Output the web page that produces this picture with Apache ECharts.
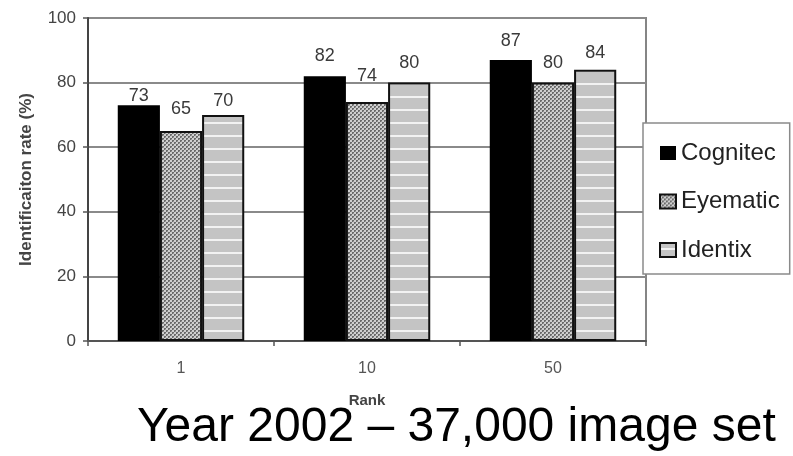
<!DOCTYPE html>
<html>
<head>
<meta charset="utf-8">
<script src="https://cdn.jsdelivr.net/npm/echarts@6/dist/echarts.min.js"></script>
<style>html,body{margin:0;padding:0;background:#fff;}#c{width:793px;height:456px;}</style>
</head>
<body>
<div id="c"></div>
<script>
const categories = ['1', '10', '50'];
const seriesNames = ['Cognitec', 'Eyematic', 'Identix'];
const cognitec = [73, 82, 87];
const eyematic = [65, 74, 80];
const identix = [70, 80, 84];
const yTicks = [0, 20, 40, 60, 80, 100];
const titleText = 'Year 2002 \u2013 37,000 image set';
const xName = 'Rank';
const yName = 'Identificaiton rate (%)';

// style only: per-label distance above each bar (px), as placed in the reference
const labelDistances = [[0, 11, 10], [13, 17, 11], [5, 11, 8]];

function makeChecker() {
  const c = document.createElement('canvas');
  c.width = 4; c.height = 4;
  const g = c.getContext('2d');
  g.fillStyle = '#cfcfcf'; g.fillRect(0, 0, 4, 4);
  g.fillStyle = '#6a6a6a';
  g.fillRect(0, 0, 2, 2); g.fillRect(2, 2, 2, 2);
  g.fillStyle = '#9a9a9a';
  g.fillRect(1, 1, 1, 1); g.fillRect(3, 3, 1, 1);
  return c;
}
function makeStripes() {
  const c = document.createElement('canvas');
  c.width = 8; c.height = 13;
  const g = c.getContext('2d');
  g.fillStyle = '#c4c4c4'; g.fillRect(0, 0, 8, 13);
  g.fillStyle = '#f2f2f2'; g.fillRect(0, 5, 8, 2);
  return c;
}

const chart = echarts.init(document.getElementById('c'), null, {renderer: 'canvas'});
const fills = ['#000000', {image: makeChecker(), repeat: 'repeat'}, {image: makeStripes(), repeat: 'repeat'}];
const datas = [cognitec, eyematic, identix];

chart.setOption({
  animation: false,
  textStyle: {fontFamily: 'Liberation Sans'},
  title: {
    text: titleText,
    left: 137, top: 404,
    padding: 0,
    textStyle: {fontSize: 48, fontWeight: 'normal', color: '#000', fontFamily: 'Liberation Sans'}
  },
  legend: {
    orient: 'vertical',
    left: 643, top: 123,
    padding: [18, 10, 12, 16],
    itemGap: 24.5,
    itemWidth: 16, itemHeight: 14,
    icon: 'rect',
    borderColor: '#8a8a8a', borderWidth: 1.5,
    backgroundColor: '#fff',
    textStyle: {fontSize: 24, color: '#222', padding: [0, 0, 0, 0]},
    data: seriesNames
  },
  grid: {
    left: 88, right: 147, top: 18, bottom: 115,
    show: true, borderColor: '#858585', borderWidth: 2, containLabel: false
  },
  xAxis: {
    type: 'category',
    data: categories,
    name: xName, nameLocation: 'middle', nameGap: 52,
    nameTextStyle: {fontSize: 15, fontWeight: 'bold', color: '#444'},
    axisLine: {lineStyle: {color: '#555', width: 2}},
    axisTick: {show: true, length: 5, lineStyle: {color: '#555', width: 1.5}},
    axisLabel: {fontSize: 16, color: '#555', margin: 20}
  },
  yAxis: {
    type: 'value', min: 0, max: 100, interval: 20,
    name: yName, nameLocation: 'middle', nameGap: 53, nameRotate: 90,
    nameTextStyle: {fontSize: 17, fontWeight: 'bold', color: '#444'},
    axisLine: {show: true, lineStyle: {color: '#444', width: 2}},
    axisTick: {show: true, length: 5, lineStyle: {color: '#555', width: 1.5}},
    axisLabel: {fontSize: 17, color: '#444', margin: 12,
      formatter: v => yTicks.includes(v) ? String(v) : ''},
    splitLine: {lineStyle: {color: '#8a8a8a', width: 2}}
  },
  series: seriesNames.map((n, i) => ({
    name: n,
    type: 'bar',
    data: datas[i].map((v, j) => ({value: v, label: {distance: labelDistances[i][j]}})),
    barGap: '0%',
    barCategoryGap: '32%',
    itemStyle: {color: fills[i], borderColor: '#111', borderWidth: i === 0 ? 0 : 2},
    label: {show: true, position: 'top', fontSize: 18, color: '#3a3a3a'}
  }))
});
</script>
</body>
</html>
